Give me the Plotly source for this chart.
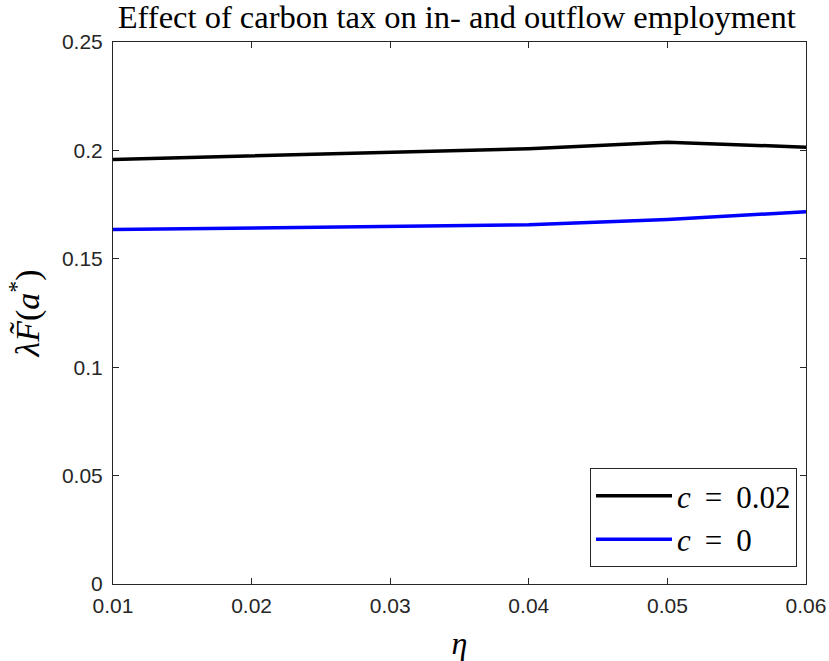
import plotly.graph_objects as go

eta = [0.01, 0.02, 0.03, 0.04, 0.05, 0.06]
c_002 = [0.1958, 0.1975, 0.1991, 0.2008, 0.2038, 0.2015]
c_0 = [0.1635, 0.1643, 0.1650, 0.1657, 0.1681, 0.1717]
x_ticks = [0.01, 0.02, 0.03, 0.04, 0.05, 0.06]
y_ticks = [0, 0.05, 0.1, 0.15, 0.2, 0.25]

serif = "Liberation Serif, DejaVu Serif, serif"
sans = "Liberation Sans, Arial, sans-serif"

fig = go.Figure()
fig.add_trace(go.Scatter(x=eta, y=c_002, mode="lines",
                         name="<i>c</i>\u2009 = \u20090.02",
                         line=dict(color="black", width=3.5)))
fig.add_trace(go.Scatter(x=eta, y=c_0, mode="lines",
                         name="<i>c</i>\u2009 = \u20090",
                         line=dict(color="#0000ff", width=3.5)))

axis_common = dict(showline=True, linecolor="#262626", linewidth=1, mirror="ticks",
                   ticks="inside", ticklen=6, tickcolor="#262626", showgrid=False,
                   zeroline=False, automargin=False,
                   tickfont=dict(family=sans, size=21, color="#262626"))

fig.update_layout(
    width=829, height=661,
    paper_bgcolor="white", plot_bgcolor="white",
    margin=dict(l=113, r=23, t=42, b=77),
    title=dict(text="Effect of carbon tax on in- and outflow employment",
               x=0.551, xanchor="center", y=0.975, yanchor="middle",
               font=dict(family=serif, size=32.5, color="black")),
    xaxis=dict(range=[0.01, 0.06], tickvals=x_ticks,
               ticktext=[str(v) for v in x_ticks], ticklabelstandoff=3,
               title=dict(text="<i>η</i>", font=dict(family=serif, size=32, color="black"),
                          standoff=16),
               **axis_common),
    yaxis=dict(range=[0, 0.25], tickvals=y_ticks,
               ticktext=[str(v) for v in y_ticks], ticklabelstandoff=5,
               title=dict(text="<i>λF̃</i>(<i>a</i><sup>*</sup>)",
                          font=dict(family=serif, size=34, color="black"),
                          standoff=12),
               **axis_common),
    legend=dict(x=0.987, y=0.031, xanchor="right", yanchor="bottom",
                bgcolor="white", bordercolor="#262626", borderwidth=1,
                font=dict(family=serif, size=31, color="black"),
                itemwidth=76, tracegroupgap=0),
    showlegend=True,
)

fig.write_html("out.html", config={"displayModeBar": False},
               post_script="document.body.style.margin='0px';")
